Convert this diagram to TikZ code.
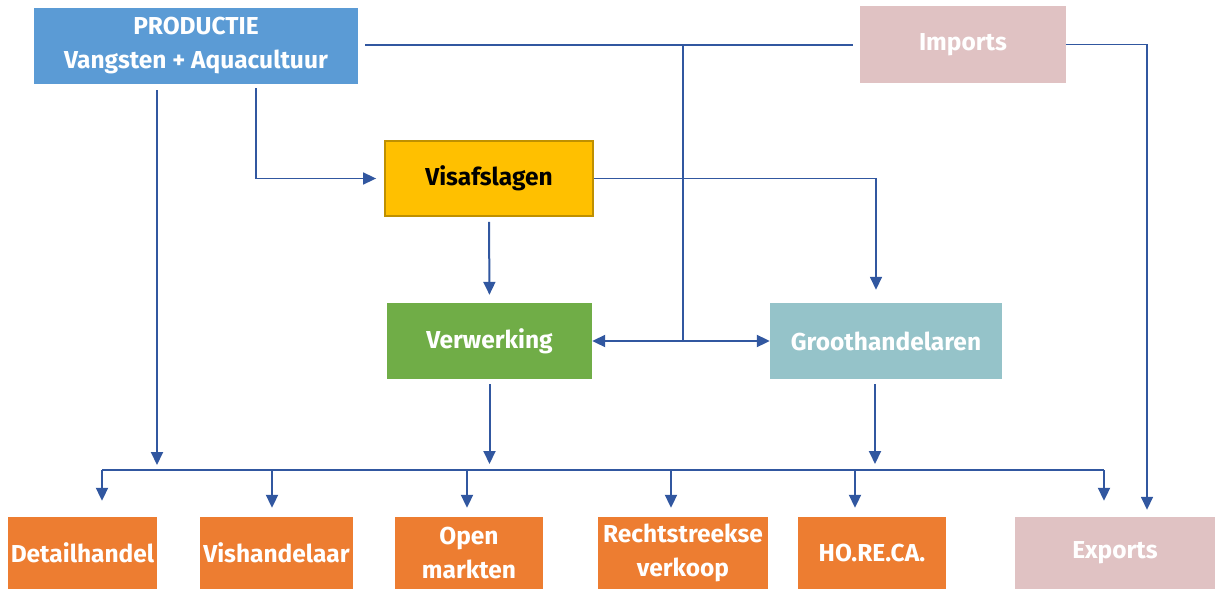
\documentclass[tikz,border=0pt]{standalone}
\usepackage{fontspec}
\setmainfont{Fira Sans}
\usetikzlibrary{arrows.meta}
\definecolor{lineblue}{HTML}{3157A0}
\definecolor{prodblue}{HTML}{5B9BD5}
\definecolor{pinkbox}{HTML}{E0C2C3}
\definecolor{goldbox}{HTML}{FFC000}
\definecolor{goldedge}{HTML}{BF9000}
\definecolor{greenbox}{HTML}{70AD47}
\definecolor{tealbox}{HTML}{95C3C9}
\definecolor{orangebox}{HTML}{ED7D31}
\tikzset{
  box/.style={rectangle, inner sep=0pt, align=center, font=\fontsize{24.5}{34}\selectfont\bfseries, text=white},
  arr/.style={draw=lineblue, line width=2pt, -{Triangle[length=13pt,width=12pt]}},
  thinline/.style={draw=lineblue, line width=1.3pt},
  dbl/.style={draw=lineblue, line width=2pt, {Triangle[length=13pt,width=12pt]}-{Triangle[length=13pt,width=12pt]}},
}
\begin{document}
\begin{tikzpicture}[x=1pt,y=-1pt]
\useasboundingbox (0,0) rectangle (1215,589);
% top nodes
\node[box, fill=prodblue, minimum width=324pt, minimum height=76pt] (prod) at (196,46) {PRODUCTIE\\Vangsten + Aquacultuur};
\node[box, fill=pinkbox, minimum width=206pt, minimum height=77pt] (imp) at (963,44.5) {Imports};
\node[box, fill=goldbox, draw=goldedge, line width=1.8pt, text=black, minimum width=208pt, minimum height=75pt] (vis) at (489,178.5) {Visafslagen};
\node[box, fill=greenbox, minimum width=205pt, minimum height=76pt] (verw) at (489.5,341) {Verwerking};
\node[box, fill=tealbox, minimum width=232pt, minimum height=76pt] (groot) at (886,341) {Groothandelaren};
% bottom nodes
\node[box, fill=orangebox, minimum width=149pt, minimum height=72pt] (det) at (82.5,553) {Detailhandel};
\node[box, fill=orangebox, minimum width=153pt, minimum height=72pt] (vsh) at (276.5,553) {Vishandelaar};
\node[box, fill=orangebox, minimum width=148pt, minimum height=72pt] (open) at (469,553) {Open\\markten};
\node[box, fill=orangebox, minimum width=170pt, minimum height=72pt] (recht) at (683,553) {Rechtstreekse\\verkoop};
\node[box, fill=orangebox, minimum width=148pt, minimum height=72pt] (hor) at (872,553) {HO.RE.CA.};
\node[box, fill=pinkbox, minimum width=200pt, minimum height=72pt] (exp) at (1115,553) {Exports};
% coordinates
\coordinate (busL) at (102,470);
\coordinate (busR) at (1104,470);
\coordinate (j1) at (683,45);
\coordinate (j2) at (683,340);
\coordinate (xa) at (157,0);
\coordinate (xb) at (256,0);
\coordinate (xc) at (1147,0);
\coordinate (xd) at (876,0);
\coordinate (xg) at (875,0);
\coordinate (d2) at (272,0);
\coordinate (d3) at (467,0);
\coordinate (d4) at (671,0);
\coordinate (d5) at (855,0);
% bus
\draw[thinline] (busL) -- (busR);
% production
\draw[arr, shorten <=6pt, shorten >=5pt] (prod.south -| xa) -- (busL -| xa);
\draw[arr, line width=1.6pt, shorten <=4pt, shorten >=8pt] (prod.south -| xb) |- (vis.west);
\draw[thinline, shorten <=7pt, shorten >=7pt] (prod.east |- j1) -- (imp.west |- j1);
\draw[thinline] (j1) -- (j2);
\draw[dbl] (verw.east) -- (groot.west);
% imports -> exports
\draw[arr, line width=1.6pt, shorten >=7pt] (imp.east) -| (exp.north -| xc);
% visafslagen
\draw[arr, line width=1.6pt, shorten >=13pt] (vis.east) -| (groot.north -| xd);
\draw[arr, shorten <=5pt, shorten >=8pt] (vis.south) -- (verw.north);
% to bus
\draw[arr, shorten <=5pt, shorten >=6pt] (verw.south) -- (verw.south |- busL);
\draw[arr, shorten <=5pt, shorten >=6pt] (groot.south -| xg) -- (busL -| xg);
% drops
\draw[arr, shorten >=16pt] (busL) -- (det.north -| busL);
\draw[arr, shorten >=9pt] (busL -| d2) -- (vsh.north -| d2);
\draw[arr, shorten >=9pt] (busL -| d3) -- (open.north -| d3);
\draw[arr, shorten >=9pt] (busL -| d4) -- (recht.north -| d4);
\draw[arr, shorten >=9pt] (busL -| d5) -- (hor.north -| d5);
\draw[arr, shorten >=16pt] (busR) -- (exp.north -| busR);
\end{tikzpicture}
\end{document}
